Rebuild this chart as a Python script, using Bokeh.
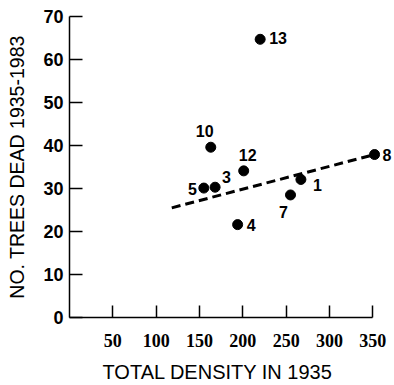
from bokeh.plotting import figure
from bokeh.models import ColumnDataSource, Range1d, FixedTicker, Title
from bokeh.core.properties import value
from bokeh.embed import file_html
from bokeh.resources import INLINE

# ---- data ----
plot_ids = ["1", "3", "4", "5", "7", "8", "10", "12", "13"]
total_density = [267, 168, 194, 155, 255, 352, 163, 201, 220]
trees_dead = [32.1, 30.3, 21.6, 30.1, 28.5, 37.9, 39.6, 34.1, 64.7]

fit_x = [118, 348]
fit_y = [25.5, 37.7]

x_ticks = [50, 100, 150, 200, 250, 300, 350]
y_ticks = [0, 10, 20, 30, 40, 50, 60, 70]

x_title = "TOTAL DENSITY IN 1935"
y_title = "NO. TREES DEAD 1935-1983"

# ---- label placement (screen px) ----
label_place = {
    "1": (12, 6, "left"),
    "3": (7, -10, "left"),
    "4": (9, 0, "left"),
    "5": (-7, 1, "right"),
    "7": (-7, 17, "center"),
    "8": (8, 0, "left"),
    "10": (-6, -16, "center"),
    "12": (4, -16, "center"),
    "13": (9, -1, "left"),
}

src = ColumnDataSource(dict(
    x=total_density, y=trees_dead, t=plot_ids,
    dx=[label_place[i][0] for i in plot_ids],
    dy=[label_place[i][1] for i in plot_ids],
    al=[label_place[i][2] for i in plot_ids],
))

p = figure(frame_width=325, frame_height=301,
           x_range=Range1d(0, 375), y_range=Range1d(0, 70),
           output_backend="svg", toolbar_location=None, title=None,
           min_border_left=69, min_border_top=16, min_border_right=0,
           min_border_bottom=0)

p.grid.visible = False
p.outline_line_color = None
p.background_fill_color = "white"
p.border_fill_color = "white"

# dashed regression line
p.line(fit_x, fit_y, line_color="black", line_width=3, line_dash="9 5")

# points
p.scatter("x", "y", source=src, size=10, fill_color="black", line_color="black")

# point labels
p.text("x", "y", text="t", source=src, x_offset="dx", y_offset="dy",
       text_align="al", text_baseline="middle",
       text_font=value("Liberation Sans"), text_font_style="bold",
       text_font_size="16px", text_color="black")

# x axis
xa = p.xaxis[0]
xa.ticker = FixedTicker(ticks=x_ticks)
xa.bounds = (0, 350)
xa.major_tick_in = 12
xa.major_tick_out = 0
xa.minor_tick_line_color = None
xa.axis_line_width = 1.5
xa.major_tick_line_width = 1.5
xa.major_label_text_font = "Liberation Sans Narrow"
xa.major_label_text_font_style = "bold"
xa.major_label_text_font_size = "18px"
xa.major_label_text_color = "black"
xa.major_label_standoff = 16

# y axis
ya = p.yaxis[0]
ya.ticker = FixedTicker(ticks=y_ticks)
ya.bounds = (0, 70)
ya.major_tick_in = 13
ya.major_tick_out = 0
ya.minor_tick_line_color = None
ya.axis_line_width = 1.5
ya.major_tick_line_width = 1.5
ya.major_label_text_font = "Liberation Sans"
ya.major_label_text_font_style = "bold"
ya.major_label_text_font_size = "18px"
ya.major_label_text_color = "black"
ya.major_label_standoff = 6
ya.axis_label = y_title
ya.axis_label_text_font = "Liberation Sans"
ya.axis_label_text_font_style = "normal"
ya.axis_label_text_font_size = "19.5px"
ya.axis_label_text_color = "black"
ya.axis_label_standoff = 12

# x axis title, aligned with the axis line
t = Title(text=x_title, align="left", offset=33,
          text_font="Liberation Sans", text_font_style="normal",
          text_font_size="20px", text_color="black", standoff=19)
p.add_layout(t, "below")

open("out.html", "w").write(file_html(p, INLINE))
